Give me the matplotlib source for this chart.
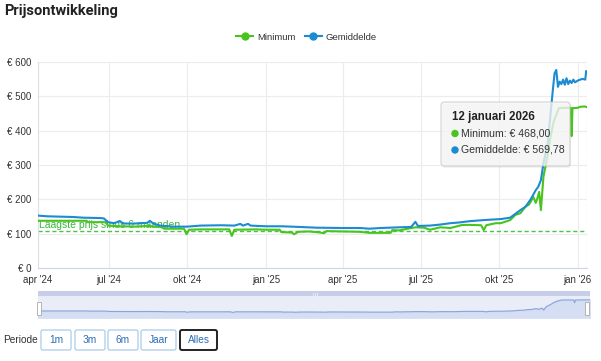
import numpy as np
import pandas as pd
import matplotlib
matplotlib.use('Agg')
import matplotlib.pyplot as plt
from matplotlib.patches import FancyBboxPatch, Rectangle, Circle
from matplotlib.lines import Line2D

plt.rcParams['font.family'] = ['Liberation Sans', 'DejaVu Sans']

# data
avg_dates = ['2024-04-09', '2024-04-20', '2024-05-05', '2024-05-20', '2024-06-01', '2024-06-20',
             '2024-06-25', '2024-06-30', '2024-07-07', '2024-07-14', '2024-07-18', '2024-08-01',
             '2024-08-15', '2024-08-18', '2024-08-22', '2024-08-30', '2024-09-15', '2024-10-01',
             '2024-10-16', '2024-11-10', '2024-11-25', '2024-12-02', '2024-12-05', '2024-12-11',
             '2024-12-14', '2025-01-01', '2025-01-20', '2025-02-10', '2025-03-01', '2025-04-01',
             '2025-04-21', '2025-05-02', '2025-05-15', '2025-06-06', '2025-06-20', '2025-06-25',
             '2025-06-28', '2025-07-12', '2025-07-24', '2025-08-05', '2025-08-15', '2025-08-28',
             '2025-09-13', '2025-10-03', '2025-10-14', '2025-10-26', '2025-11-01', '2025-11-07',
             '2025-11-13', '2025-11-16', '2025-11-19', '2025-11-22', '2025-11-27', '2025-11-30',
             '2025-12-03', '2025-12-05', '2025-12-07', '2025-12-09', '2025-12-11', '2025-12-13',
             '2025-12-15', '2025-12-17', '2025-12-19', '2025-12-21', '2025-12-23', '2025-12-25',
             '2025-12-27', '2025-12-29', '2026-01-01', '2026-01-04', '2026-01-07', '2026-01-10',
             '2026-01-11', '2026-01-12']
avg_vals = [153, 151, 150, 149, 147, 146,
            145, 134, 131, 137, 130, 130,
            132, 138, 130, 124, 121, 121,
            124, 125, 124, 129, 124, 129,
            124, 122, 122, 120, 118, 117,
            117, 115, 117, 119, 120, 135,
            123, 124, 127, 131, 133, 137,
            140, 143, 147, 169, 179, 200,
            227, 237, 256, 305, 363, 440,
            518, 566, 576, 527, 542, 535,
            548, 533, 552, 535, 545, 538,
            548, 540, 545, 548, 550, 548,
            573, 569.78]

min_dates = ['2024-04-09', '2024-06-05', '2024-06-06', '2024-06-27', '2024-06-30', '2024-07-15',
             '2024-08-01', '2024-08-15', '2024-08-31', '2024-09-04', '2024-09-27', '2024-09-30',
             '2024-10-03', '2024-10-16', '2024-11-19', '2024-11-22', '2024-11-25', '2024-12-20',
             '2025-01-01', '2025-01-17', '2025-01-19', '2025-01-31', '2025-02-03', '2025-02-08',
             '2025-02-21', '2025-03-05', '2025-03-10', '2025-03-13', '2025-04-01', '2025-04-21',
             '2025-05-02', '2025-05-27', '2025-05-29', '2025-06-06', '2025-06-18', '2025-06-25',
             '2025-07-05', '2025-07-12', '2025-07-24', '2025-08-05', '2025-08-19', '2025-08-28',
             '2025-09-10', '2025-09-13', '2025-09-16', '2025-09-27', '2025-10-03', '2025-10-14',
             '2025-10-20', '2025-10-26', '2025-11-01', '2025-11-05', '2025-11-07', '2025-11-10',
             '2025-11-13', '2025-11-15', '2025-11-17', '2025-11-19', '2025-11-22', '2025-11-27',
             '2025-11-30', '2025-12-04', '2025-12-10', '2025-12-16', '2025-12-24', '2025-12-25',
             '2025-12-26', '2026-01-01', '2026-01-04', '2026-01-09', '2026-01-12']
min_vals = [138, 138, 134, 134, 124, 122,
            121, 123, 120, 115, 115, 99,
            112, 113, 113, 94, 112, 113,
            112, 112, 105, 104, 99, 106,
            107, 104, 102, 108, 107, 106,
            103, 103, 111, 110, 116, 119,
            118, 112, 119, 117, 126, 126,
            125, 111, 125, 131, 131, 140,
            155, 160, 179, 185, 193, 208,
            190, 204, 222, 169, 266, 329,
            378, 426, 465, 466, 466, 384,
            465, 466, 469, 470, 468]

ref_value = 108
ref_label = 'Laagste prijs sinds 6 maanden'
y_ticks = [0, 100, 200, 300, 400, 500, 600]
x_tick_dates = ['2024-04-09', '2024-07-01', '2024-10-01', '2025-01-01', '2025-04-01',
                '2025-07-01', '2025-10-01', '2026-01-01']
x_tick_labels = ["apr '24", "jul '24", "okt '24", "jan '25", "apr '25",
                 "jul '25", "okt '25", "jan '26"]
buttons = ['1m', '3m', '6m', 'Jaar', 'Alles']

green = '#47c41d'
blue = '#1b8bd3'

avg_d = pd.to_datetime(avg_dates)
min_d = pd.to_datetime(min_dates)
x0, x1 = pd.Timestamp('2024-04-09'), pd.Timestamp('2026-01-12')

W, H = 601, 361
fig = plt.figure(figsize=(W / 100, H / 100), dpi=100)


def box(l, t, r, b):
    return [l / W, 1 - b / H, (r - l) / W, (b - t) / H]


ax = fig.add_axes(box(38, 61.7, 587, 268.3))
ax.plot(min_d, min_vals, color=green, lw=1.5, zorder=3)
ax.plot(avg_d, avg_vals, color=blue, lw=1.5, zorder=3)
ax.axhline(ref_value, color='#49c449', lw=1.0, ls=(0, (3, 2)), zorder=2)
ax.text(x0 + pd.Timedelta(days=1), ref_value + 3, ref_label, color='#3bb53b', fontsize=7.5,
        va='bottom', ha='left', zorder=2)
ax.set_xlim(x0, x1)
ax.set_ylim(0, 600)
ax.set_yticks(y_ticks)
ax.set_yticklabels(['€ %d' % v for v in y_ticks])
ax.set_xticks(pd.to_datetime(x_tick_dates))
ax.set_xticklabels(x_tick_labels)
ax.tick_params(length=0, labelsize=7, colors='#333333', pad=5)
ax.grid(True, color='#ececec', lw=0.8)
ax.set_axisbelow(True)
for s in ['top', 'right']:
    ax.spines[s].set_visible(False)
ax.spines['left'].set_color('#e0e0e0')
ax.spines['bottom'].set_color('#ccd6eb')
ax.axvline(x1, color='#b0b0b0', lw=0.8, ls=(0, (2, 2)), zorder=4)

# navigator
nav = fig.add_axes(box(38, 296, 590, 318))
nav.set_facecolor('#e8edf8')
nav.plot(min_d, min_vals, color='#8aa4dc', lw=0.8)
nav.fill_between(min_d, min_vals, -100, color='#c9d5f0', alpha=0.6)
nav.set_xlim(x0, x1)
nav.set_ylim(-72, 584)
nav.set_xticks([])
nav.set_yticks([])
for s in nav.spines.values():
    s.set_visible(False)

# overlay in pixel coordinates for decorations
ov = fig.add_axes([0, 0, 1, 1])
ov.set_xlim(0, W)
ov.set_ylim(H, 0)
ov.axis('off')

fig.text(4 / W, 1 - 11 / H, 'Prijsontwikkeling', fontsize=10.5, fontweight='bold',
         family='Roboto', color='#222222', va='center', ha='left')

# legend
handles = [Line2D([], [], color=green, marker='o', ms=5, lw=1.5),
           Line2D([], [], color=blue, marker='o', ms=5, lw=1.5)]
fig.legend(handles, ['Minimum', 'Gemiddelde'], loc='center', bbox_to_anchor=(0.51, 1 - 37 / H),
           ncol=2, frameon=False, fontsize=6.8, handlelength=1.8, columnspacing=1.0,
           handletextpad=0.4, labelcolor='#333333')

# scrollbar + handles
ov.add_patch(Rectangle((38, 291), 552, 5, fc='#c8cee9', ec='none'))
for gx in [313, 315, 317]:
    ov.plot([gx, gx], [292.5, 294.5], color='#eef0f8', lw=0.6)
for hx in [38, 586]:
    ov.add_patch(Rectangle((hx - 1, 302), 4, 13, fc='white', ec='#aaaaaa', lw=0.6))

# tooltip
ov.add_patch(FancyBboxPatch((442, 104), 129, 64, boxstyle='round,pad=0,rounding_size=3',
                            fc='#000000', ec='none', alpha=0.05))
ov.add_patch(FancyBboxPatch((441, 102), 129, 64, boxstyle='round,pad=0,rounding_size=3',
                            fc='#f7f7f7', ec='#c8c8c8', lw=0.8, alpha=0.78))
ov.text(452, 117, '12 januari 2026', fontsize=8.3, fontweight='bold', color='#222222',
        va='center')
ov.add_patch(Circle((455, 133.5), 3, color=green))
ov.text(461, 133.5, 'Minimum: € %s' % f'{min_vals[-1]:.2f}'.replace('.', ','), fontsize=7.6,
        color='#333333', va='center')
ov.add_patch(Circle((455, 150), 3, color=blue))
ov.text(461, 150, 'Gemiddelde: € %s' % f'{avg_vals[-1]:.2f}'.replace('.', ','), fontsize=7.6,
        color='#333333', va='center')

# period buttons
ov.text(3, 340, 'Periode', fontsize=7.3, color='#333333', va='center')
bx = [(41, 71), (75, 105), (108, 138), (141, 176), (180, 217)]
for (l, r), lab in zip(bx, buttons):
    active = lab == 'Alles'
    ov.add_patch(FancyBboxPatch((l, 330), r - l, 20, boxstyle='round,pad=0,rounding_size=2',
                                fc='white', ec='#222222' if active else '#a9cbe9',
                                lw=1.4 if active else 0.9))
    ov.text((l + r) / 2, 340, lab, fontsize=7.3, color='#2a6db5', ha='center', va='center')

fig.savefig('out.png', dpi=100)
